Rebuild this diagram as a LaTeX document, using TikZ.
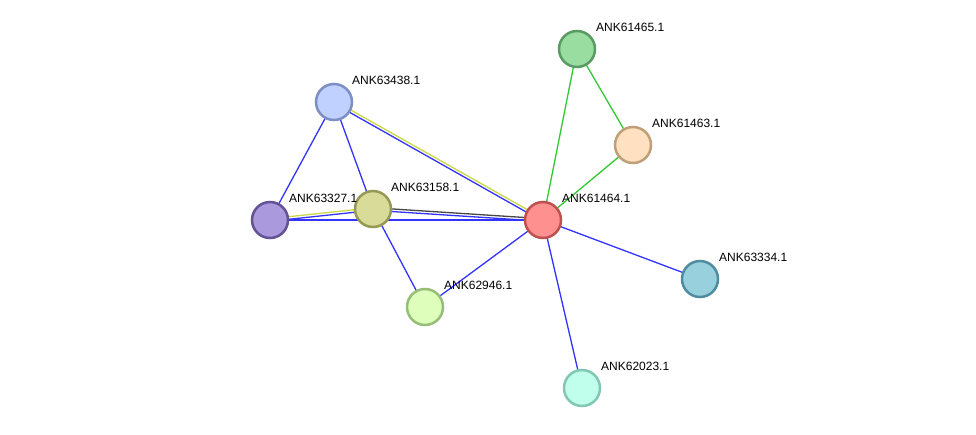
\documentclass[tikz,border=0pt]{standalone}
\usepackage{fontspec}
\setmainfont{Liberation Sans}
\usetikzlibrary{calc,backgrounds}
\definecolor{fA}{RGB}{153,221,160}\definecolor{dA}{RGB}{90,155,100}
\definecolor{fB}{RGB}{255,224,192}\definecolor{dB}{RGB}{190,160,120}
\definecolor{fC}{RGB}{192,208,255}\definecolor{dC}{RGB}{125,142,195}
\definecolor{fD}{RGB}{170,153,221}\definecolor{dD}{RGB}{100,82,150}
\definecolor{fE}{RGB}{216,220,152}\definecolor{dE}{RGB}{150,152,85}
\definecolor{fF}{RGB}{255,144,144}\definecolor{dF}{RGB}{190,80,80}
\definecolor{fG}{RGB}{221,255,187}\definecolor{dG}{RGB}{150,190,120}
\definecolor{fH}{RGB}{153,208,221}\definecolor{dH}{RGB}{80,140,160}
\definecolor{fI}{RGB}{192,255,236}\definecolor{dI}{RGB}{128,200,180}
\definecolor{eblue}{RGB}{51,51,255}
\definecolor{egreen}{RGB}{51,200,51}
\definecolor{eyel}{RGB}{200,216,70}
\definecolor{egray}{RGB}{70,70,70}
% two parallel lines between two nodes
\newcommand\pairlink[4]{%
  \draw[lnk,#3] ($(#1.center)!1.3pt!90:(#2.center)$) -- ($(#2.center)!1.3pt!-90:(#1.center)$);
  \draw[lnk,#4] ($(#1.center)!1.3pt!-90:(#2.center)$) -- ($(#2.center)!1.3pt!90:(#1.center)$);}
\begin{document}
\begin{tikzpicture}[x=1pt,y=-1pt,
    prot/.style={circle,minimum size=36pt,inner sep=0pt,line width=2.5pt},
    lbl/.style={anchor=west,inner sep=0pt,font=\fontsize{12}{14}\selectfont},
    lnk/.style={line width=1.3pt}]
  \useasboundingbox (0,0) rectangle (976,434);
  % proteins
  \node[prot,fill=fA,draw=dA] (n61465) at (577,49) {};
  \node[prot,fill=fB,draw=dB] (n61463) at (633,145) {};
  \node[prot,fill=fC,draw=dC] (n63438) at (334,102) {};
  \node[prot,fill=fD,draw=dD] (n63327) at (270,220) {};
  \node[prot,fill=fE,draw=dE] (n63158) at (373,209) {};
  \node[prot,fill=fF,draw=dF] (n61464) at (543,220) {};
  \node[prot,fill=fG,draw=dG] (n62946) at (425,307) {};
  \node[prot,fill=fH,draw=dH] (n63334) at (700,279) {};
  \node[prot,fill=fI,draw=dI] (n62023) at (582,388) {};
  % names
  \node[lbl] (t61465) at ($(n61465)+(19,-22)$) {ANK61465.1};
  \node[lbl] (t61463) at ($(n61463)+(19,-22)$) {ANK61463.1};
  \node[lbl] (t63438) at ($(n63438)+(18,-22)$) {ANK63438.1};
  \node[lbl] (t63327) at ($(n63327)+(19,-22)$) {ANK63327.1};
  \node[lbl] (t63158) at ($(n63158)+(18,-22)$) {ANK63158.1};
  \node[lbl] (t61464) at ($(n61464)+(19,-22)$) {ANK61464.1};
  \node[lbl] (t62946) at ($(n62946)+(19,-22)$) {ANK62946.1};
  \node[lbl] (t63334) at ($(n63334)+(19,-22)$) {ANK63334.1};
  \node[lbl] (t62023) at ($(n62023)+(19,-22)$) {ANK62023.1};
  \begin{scope}[on background layer]
    \fill[white] (0,0) rectangle (976,434);
    % links
    \draw[lnk,egreen] (n61465.center) -- (n61463.center);
    \draw[lnk,egreen] (n61465.center) -- (n61464.center);
    \draw[lnk,egreen] (n61463.center) -- (n61464.center);
    \draw[lnk,eblue] (n63438.center) -- (n63327.center);
    \draw[lnk,eblue] (n63438.center) -- (n63158.center);
    \draw[lnk,eblue] (n63327.center) -- (n61464.center);
    \draw[lnk,eblue] (n63158.center) -- (n62946.center);
    \draw[lnk,eblue] (n62946.center) -- (n61464.center);
    \draw[lnk,eblue] (n61464.center) -- (n63334.center);
    \draw[lnk,eblue] (n61464.center) -- (n62023.center);
    \pairlink{n63438}{n61464}{eyel}{eblue}
    \pairlink{n63327}{n63158}{eyel}{eblue}
    \pairlink{n63158}{n61464}{egray}{eblue}
  \end{scope}
\end{tikzpicture}
\end{document}
